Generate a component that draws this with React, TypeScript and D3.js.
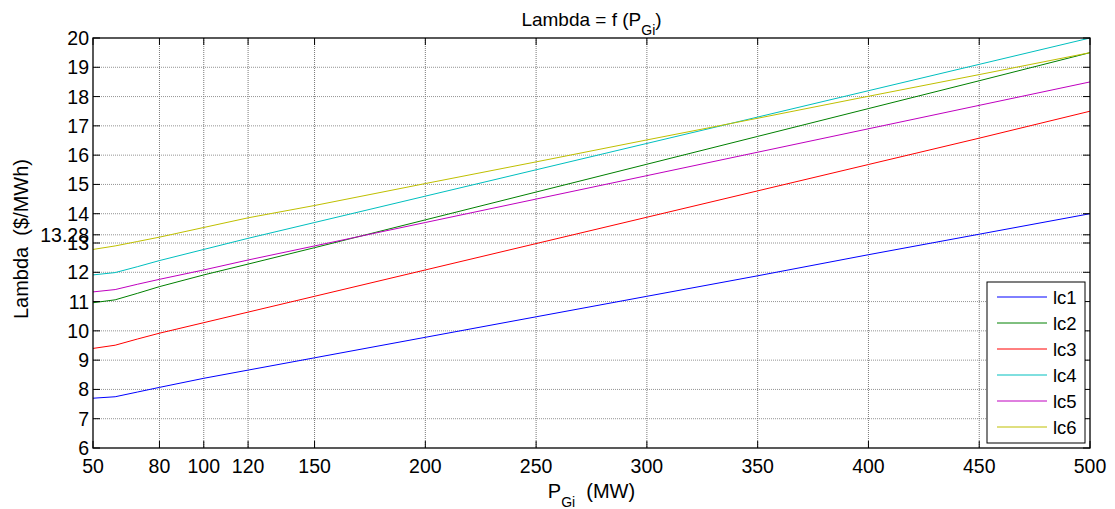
import React, { useEffect, useRef } from "react";
import * as d3 from "d3";

const pgi = [50, 60, 70, 80, 100, 120, 150, 200, 250, 300, 350, 400, 450, 500];
const lc1 = [7.7, 7.75, 7.91, 8.07, 8.38, 8.66, 9.08, 9.78, 10.48, 11.18, 11.88, 12.6, 13.3, 14.0];
const lc2 = [10.96, 11.06, 11.28, 11.51, 11.91, 12.28, 12.84, 13.79, 14.74, 15.69, 16.64, 17.59, 18.54, 19.5];
const lc3 = [9.4, 9.51, 9.72, 9.92, 10.28, 10.64, 11.18, 12.08, 12.98, 13.88, 14.78, 15.68, 16.58, 17.5];
const lc4 = [11.91, 11.99, 12.19, 12.4, 12.78, 13.16, 13.7, 14.6, 15.5, 16.4, 17.3, 18.2, 19.1, 20.0];
const lc5 = [11.33, 11.41, 11.59, 11.76, 12.08, 12.42, 12.9, 13.7, 14.5, 15.3, 16.1, 16.9, 17.7, 18.5];
const lc6 = [12.78, 12.9, 13.05, 13.2, 13.53, 13.86, 14.28, 15.03, 15.77, 16.52, 17.26, 18.01, 18.75, 19.5];

const seriesNames = ["lc1", "lc2", "lc3", "lc4", "lc5", "lc6"];
const seriesColors = ["#0000ff", "#008000", "#ff0000", "#00bfbf", "#bf00bf", "#bfbf00"];
const seriesValues = [lc1, lc2, lc3, lc4, lc5, lc6];

const xTicks = [50, 80, 100, 120, 150, 200, 250, 300, 350, 400, 450, 500];
const yTicks = [6, 7, 8, 9, 10, 11, 12, 13, 13.28, 14, 15, 16, 17, 18, 19, 20];

export default function App() {
  const ref = useRef<SVGSVGElement | null>(null);

  useEffect(() => {
    const svg = d3.select(ref.current);
    svg.selectAll("*").remove();

    const font = "Liberation Sans, Arial, sans-serif";
    const left = 93, right = 1090, top = 38, bottom = 448;
    const cx = (left + right) / 2;

    const x = d3.scaleLinear().domain([50, 500]).range([left, right]);
    const y = d3.scaleLinear().domain([6, 20]).range([bottom, top]);

    svg.append("rect").attr("x", 0).attr("y", 0).attr("width", 1115).attr("height", 509).attr("fill", "#fff");

    // grid
    const grid = svg.append("g");
    grid.selectAll("line.gx")
      .data(xTicks.slice(1, -1))
      .enter().append("line")
      .attr("x1", d => x(d)).attr("x2", d => x(d))
      .attr("y1", top).attr("y2", bottom)
      .attr("stroke", "#555").attr("stroke-width", 0.8)
      .attr("stroke-dasharray", "1,1");
    grid.selectAll("line.gy")
      .data(yTicks.slice(1, -1))
      .enter().append("line")
      .attr("x1", left).attr("x2", right)
      .attr("y1", d => y(d)).attr("y2", d => y(d))
      .attr("stroke", "#777").attr("stroke-width", 0.8)
      .attr("stroke-dasharray", "1,1");

    // lines
    const line = d3.line<number>()
      .x((d, i) => x(pgi[i]))
      .y(d => y(d));

    seriesValues.forEach((vals, k) => {
      svg.append("path")
        .datum(vals)
        .attr("d", line)
        .attr("fill", "none")
        .attr("stroke", seriesColors[k])
        .attr("stroke-width", 1);
    });

    // axes box with inward ticks
    const tl = 7;
    const axisG = svg.append("g").attr("stroke", "#000");
    axisG.append("rect")
      .attr("x", left).attr("y", top)
      .attr("width", right - left).attr("height", bottom - top)
      .attr("fill", "none").attr("stroke-width", 1.3);
    xTicks.forEach(t => {
      axisG.append("line").attr("x1", x(t)).attr("x2", x(t)).attr("y1", bottom).attr("y2", bottom - tl);
      axisG.append("line").attr("x1", x(t)).attr("x2", x(t)).attr("y1", top).attr("y2", top + tl);
    });
    yTicks.forEach(t => {
      axisG.append("line").attr("x1", left).attr("x2", left + tl).attr("y1", y(t)).attr("y2", y(t));
      axisG.append("line").attr("x1", right).attr("x2", right - tl).attr("y1", y(t)).attr("y2", y(t));
    });

    svg.append("g").selectAll("text")
      .data(xTicks)
      .enter().append("text")
      .attr("x", d => x(d))
      .attr("y", bottom + 25)
      .attr("text-anchor", "middle")
      .style("font-family", font)
      .style("font-size", "19.5px")
      .text(d => d);

    svg.append("g").selectAll("text")
      .data(yTicks)
      .enter().append("text")
      .attr("x", left - 4)
      .attr("y", d => y(d) + 7)
      .attr("text-anchor", "end")
      .style("font-family", font)
      .style("font-size", "19.5px")
      .text(d => d);

    // title
    const title = svg.append("text")
      .attr("x", cx).attr("y", 26)
      .attr("text-anchor", "middle")
      .style("font-family", font)
      .style("font-size", "19px");
    title.append("tspan").text("Lambda = f (P");
    title.append("tspan").attr("dy", 9).style("font-size", "14px").text("Gi");
    title.append("tspan").attr("dy", -9).text(")");

    // x label
    const xl = svg.append("text")
      .attr("x", cx).attr("y", 498)
      .attr("text-anchor", "middle")
      .attr("xml:space", "preserve")
      .style("font-family", font)
      .style("font-size", "20px");
    xl.append("tspan").text("P");
    xl.append("tspan").attr("dy", 9).style("font-size", "14px").text("Gi");
    xl.append("tspan").attr("dy", -9).text("  (MW)");

    // y label
    svg.append("text")
      .attr("transform", `translate(28,${(top + bottom) / 2 - 4}) rotate(-90)`)
      .attr("text-anchor", "middle")
      .attr("xml:space", "preserve")
      .style("font-family", font)
      .style("font-size", "20px")
      .text("Lambda  ($/MWh)");

    // legend
    const lx = 987, ly = 282, lw = 98, lh = 161;
    const leg = svg.append("g");
    leg.append("rect")
      .attr("x", lx).attr("y", ly).attr("width", lw).attr("height", lh)
      .attr("fill", "#fff").attr("stroke", "#000").attr("stroke-width", 1);
    seriesNames.forEach((name, k) => {
      const yy = ly + 15 + k * 26;
      leg.append("line")
        .attr("x1", lx + 10).attr("x2", lx + 60)
        .attr("y1", yy).attr("y2", yy)
        .attr("stroke", seriesColors[k]).attr("stroke-width", 1);
      leg.append("text")
        .attr("x", lx + 66).attr("y", yy + 7)
        .style("font-family", font)
        .style("font-size", "18.5px")
        .text(name);
    });
  }, []);

  return (
    <svg ref={ref} width={1115} height={509} style={{ display: "block", position: "absolute", left: 0, top: 0 }} />
  );
}
